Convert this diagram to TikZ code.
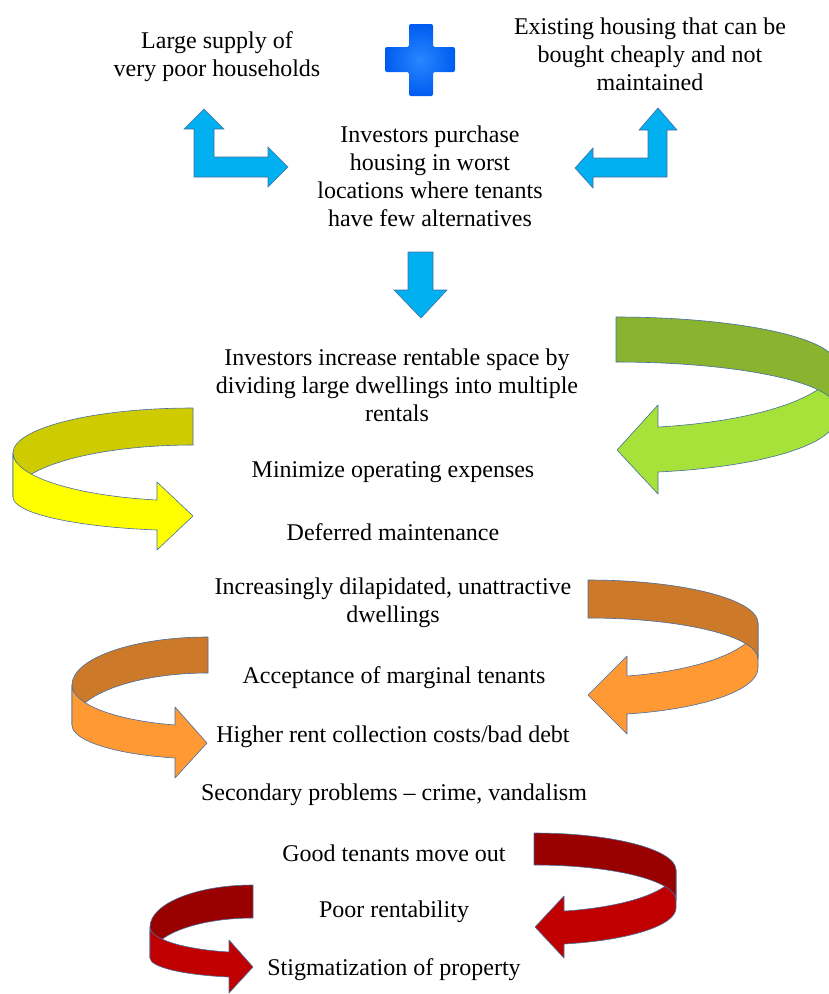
\documentclass[tikz,border=0pt]{standalone}
\usepackage{fontspec}
\setmainfont{Liberation Serif}
\usepackage{tikz}
\usepackage{xcolor}
\usetikzlibrary{arrows.meta}

\definecolor{arrowblue}{RGB}{0,176,240}
\definecolor{edgeblue}{RGB}{70,110,160}
\definecolor{plusin}{RGB}{40,135,255}
\definecolor{plusout}{RGB}{0,92,240}
\definecolor{greendark}{RGB}{138,179,48}
\definecolor{greenlight}{RGB}{166,226,58}
\definecolor{yellowdark}{RGB}{206,204,0}
\definecolor{yellowlight}{RGB}{255,255,0}
\definecolor{orangedark}{RGB}{204,122,41}
\definecolor{orangelight}{RGB}{255,153,51}
\definecolor{reddark}{RGB}{153,0,0}
\definecolor{redlight}{RGB}{192,0,0}

\tikzset{
	txt/.style={align=center, font=\fontsize{24}{28}\selectfont},
	blockarrow/.style={draw=edgeblue, fill=arrowblue, line width=0.6pt, line join=miter},
	ribbon/.style={draw=edgeblue, line width=0.6pt, line join=round}
}

\begin{document}
\begin{tikzpicture}[x=1pt, y=1pt, yscale=-1]
	\useasboundingbox (0, 0) rectangle (828, 994);
	
	% plus sign
	\shade [rounded corners=2pt, inner color=plusin, outer color=plusout] (409, 24) -- (433, 24) -- (433, 47) -- (455, 47) -- (455, 72) -- (433, 72) -- (433, 96) -- (409, 96) -- (409, 72) -- (385, 72) -- (385, 47) -- (409, 47) -- cycle;
	
	% bent and straight block arrows
	\draw [blockarrow] (204, 109) -- (224, 129) -- (214, 129) -- (214, 157) -- (268, 157) -- (268, 147) -- (288, 167) -- (268, 187) -- (268, 177) -- (194, 177) -- (194, 129) -- (184, 129) -- cycle;
	\draw [blockarrow] (658, 108) -- (677, 130) -- (667, 130) -- (667, 177) -- (593, 177) -- (593, 188) -- (575, 168) -- (593, 148) -- (593, 158) -- (648, 158) -- (648, 130) -- (639, 130) -- cycle;
	\draw [blockarrow] (408, 252) -- (433, 252) -- (433, 290) -- (447, 290) -- (421, 318) -- (394, 290) -- (408, 290) -- cycle;
	
	% green, right side
	\draw [ribbon, fill=greenlight] (836, 364) arc [start angle=0, end angle=79, x radius=220, y radius=64.2] -- (658, 405) -- (617, 450) -- (658, 494) -- (658, 472) arc [start angle=79, end angle=0, x radius=220, y radius=55] -- cycle;
	\draw [ribbon, fill=greendark] (616, 317) arc [start angle=-90, end angle=0, x radius=220, y radius=47] -- (836, 408) arc [start angle=0, end angle=-90, x radius=220, y radius=46] -- cycle;
	
	% yellow, left side
	\draw [ribbon, fill=yellowdark] (193, 408) arc [start angle=-90, end angle=-180, x radius=180, y radius=45] -- (13, 497) arc [start angle=180, end angle=270, x radius=180, y radius=52] -- cycle;
	\draw [ribbon, fill=yellowlight] (13, 453) arc [start angle=180, end angle=101.54, x radius=180, y radius=48] -- (157, 482) -- (193, 516) -- (157, 550) -- (157, 530) arc [start angle=101.54, end angle=180, x radius=180, y radius=33.7] -- cycle;
	
	% orange, right side
	\draw [ribbon, fill=orangelight] (758, 623) arc [start angle=0, end angle=76.74, x radius=170, y radius=54.5] -- (627, 656) -- (588, 695) -- (627, 734) -- (627, 714) arc [start angle=76.74, end angle=0, x radius=170, y radius=47.3] -- cycle;
	\draw [ribbon, fill=orangedark] (588, 580) arc [start angle=-90, end angle=0, x radius=170, y radius=43] -- (758, 659) arc [start angle=0, end angle=-90, x radius=170, y radius=41] -- cycle;
	
	% orange, left side
	\draw [ribbon, fill=orangedark] (208, 637) arc [start angle=-90, end angle=-180, x radius=136, y radius=48] -- (72, 725) arc [start angle=180, end angle=270, x radius=136, y radius=52] -- cycle;
	\draw [ribbon, fill=orangelight] (72, 685) arc [start angle=180, end angle=104.04, x radius=136, y radius=41.2] -- (175, 707) -- (207, 743) -- (175, 778) -- (175, 758) arc [start angle=104.04, end angle=180, x radius=136, y radius=34] -- cycle;
	
	% red, right side
	\draw [ribbon, fill=redlight] (676, 870) arc [start angle=0, end angle=77.8, x radius=142, y radius=42] -- (564, 896) -- (535, 927) -- (564, 958) -- (564, 944) arc [start angle=77.8, end angle=0, x radius=142, y radius=36.8] -- cycle;
	\draw [ribbon, fill=reddark] (534, 833) arc [start angle=-90, end angle=0, x radius=142, y radius=37] -- (676, 900) arc [start angle=0, end angle=-90, x radius=142, y radius=35] -- cycle;
	
	% red, left side
	\draw [ribbon, fill=reddark] (253, 885) arc [start angle=-90, end angle=-180, x radius=103, y radius=42] -- (150, 958) arc [start angle=180, end angle=270, x radius=103, y radius=40] -- cycle;
	\draw [ribbon, fill=redlight] (150, 927) arc [start angle=180, end angle=103.47, x radius=103, y radius=25.7] -- (229, 940) -- (253, 967) -- (229, 993) -- (229, 977) arc [start angle=103.47, end angle=180, x radius=103, y radius=19.5] -- cycle;
	
	% texts
	\node [txt] (supply) at (217, 57) {Large supply of\\very poor households};
	\node [txt] (existing) at (650, 54) {Existing housing that can be\\bought cheaply and not\\maintained};
	\node [txt] (purchase) at (430, 176) {Investors purchase\\housing in worst\\locations where tenants\\have few alternatives};
	
	\node [txt] (divide) at (397, 385) {Investors increase rentable space by\\dividing large dwellings into multiple\\rentals};
	\node [txt] (minimize) at (393, 472) {Minimize operating expenses};
	\node [txt] (deferred) at (393, 532) {Deferred maintenance};
	\node [txt] (dilapidated) at (393, 603) {Increasingly dilapidated, unattractive\\dwellings};
	\node [txt] (marginal) at (394, 678) {Acceptance of marginal tenants};
	\node [txt] (collection) at (393, 737) {Higher rent collection costs/bad debt};
	\node [txt] (secondary) at (394, 795) {Secondary problems -- crime, vandalism};
	\node [txt] (moveout) at (394, 853) {Good tenants move out};
	\node [txt] (rentability) at (394, 912) {Poor rentability};
	\node [txt] (stigma) at (394, 970) {Stigmatization of property};
\end{tikzpicture}
\end{document}
